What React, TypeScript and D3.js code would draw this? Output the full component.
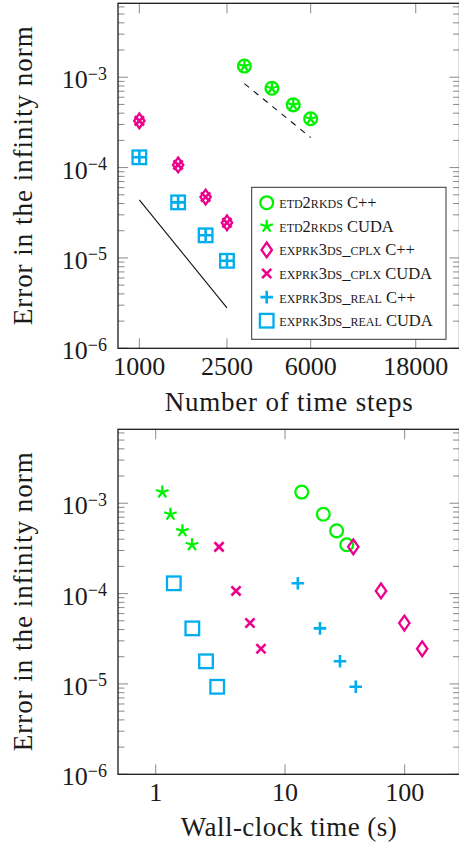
import React from 'react';
import * as d3 from 'd3';

const W = 459;
const H = 853;
const FONT = '"Liberation Serif", "DejaVu Serif", serif';

// number of time steps
const etdSteps = [3000, 4000, 5000, 6000];
const exprkSteps = [1000, 1500, 2000, 2500];

// error in the infinity norm (same for C++ and CUDA runs)
const etdErr = [1.33e-3, 7.55e-4, 4.95e-4, 3.47e-4];
const cplxErr = [3.29e-4, 1.07e-4, 4.72e-5, 2.45e-5];
const realErr = [1.3e-4, 4.12e-5, 1.78e-5, 9.3e-6];

// wall-clock time (s)
const etdCppTime = [13.8, 20.9, 27.0, 32.8];
const etdCudaTime = [1.125, 1.3, 1.61, 1.91];
const cplxCppTime = [37.2, 63.4, 99.3, 140];
const cplxCudaTime = [3.09, 4.18, 5.36, 6.52];
const realCppTime = [12.8, 19.6, 28.8, 39.0];
const realCudaTime = [1.38, 1.92, 2.45, 2.99];

// reference slopes (order 3 solid, order 2 dashed)
const order3Steps = [1000, 2500];
const order3Err = [4.4e-5, 2.8e-6];
const order2Steps = [3000, 6000];
const order2Err = [8.5e-4, 2.15e-4];

const stepTicks = [1000, 2500, 6000, 18000];
const timeTicks = [1, 10, 100];
const errTicks = [1e-6, 1e-5, 1e-4, 1e-3];
const errExp = ['6', '5', '4', '3'];

const GREEN = '#00f200';
const PINK = '#ec008c';
const CYAN = '#00aeef';

type Mark = 'circle' | 'star' | 'diamond' | 'cross' | 'plus' | 'square';

const series: {
  method: string;
  hw: string;
  mark: Mark;
  color: string;
  steps: number[];
  err: number[];
  time: number[];
}[] = [
  { method: 'etd2rkds', hw: 'C++', mark: 'circle', color: GREEN, steps: etdSteps, err: etdErr, time: etdCppTime },
  { method: 'etd2rkds', hw: 'CUDA', mark: 'star', color: GREEN, steps: etdSteps, err: etdErr, time: etdCudaTime },
  { method: 'exprk3ds_cplx', hw: 'C++', mark: 'diamond', color: PINK, steps: exprkSteps, err: cplxErr, time: cplxCppTime },
  { method: 'exprk3ds_cplx', hw: 'CUDA', mark: 'cross', color: PINK, steps: exprkSteps, err: cplxErr, time: cplxCudaTime },
  { method: 'exprk3ds_real', hw: 'C++', mark: 'plus', color: CYAN, steps: exprkSteps, err: realErr, time: realCppTime },
  { method: 'exprk3ds_real', hw: 'CUDA', mark: 'square', color: CYAN, steps: exprkSteps, err: realErr, time: realCudaTime },
];

function Marker({ mark, x, y, color }: { mark: Mark; x: number; y: number; color: string }) {
  const sw = 2.3;
  const common = { fill: 'none', stroke: color, strokeWidth: sw };
  switch (mark) {
    case 'circle':
      return <circle cx={x} cy={y} r={6.4} {...common} />;
    case 'square':
      return <rect x={x - 6.8} y={y - 6.8} width={13.6} height={13.6} {...common} />;
    case 'diamond':
      return <path d={`M${x},${y - 7.4}L${x + 5.2},${y}L${x},${y + 7.4}L${x - 5.2},${y}Z`} {...common} />;
    case 'cross':
      return <path d={`M${x - 4.6},${y - 4.6}L${x + 4.6},${y + 4.6}M${x + 4.6},${y - 4.6}L${x - 4.6},${y + 4.6}`} {...common} strokeWidth={2.6} />;
    case 'plus':
      return <path d={`M${x - 6.3},${y}L${x + 6.3},${y}M${x},${y - 6.3}L${x},${y + 6.3}`} {...common} strokeWidth={2.6} />;
    case 'star': {
      let d = '';
      for (let k = 0; k < 5; k++) {
        const a = ((-90 + k * 72) * Math.PI) / 180;
        d += `M${x},${y}L${x + 6.6 * Math.cos(a)},${y + 6.6 * Math.sin(a)}`;
      }
      return <path d={d} {...common} />;
    }
  }
}

type Panel = { left: number; right: number; top: number; bottom: number };

function Frame({
  p,
  x,
  y,
  xTicks,
  xLabel,
  xLabelLen,
  xLabelY,
  xTickY,
}: {
  p: Panel;
  x: (v: number) => number;
  y: d3.ScaleLogarithmic<number, number>;
  xTicks: number[];
  xLabel: string;
  xLabelLen: number;
  xLabelY: number;
  xTickY: number;
}) {
  const [lo, hi] = y.domain();
  const minors: number[] = [];
  for (let e = -6; e <= -3; e++) {
    for (let k = 2; k <= 9; k++) {
      const v = k * Math.pow(10, e);
      if (v > lo && v < hi) minors.push(v);
    }
  }
  const tickCol = '#8a8a8a';
  const cy = (p.top + p.bottom) / 2;
  const cx = (p.left + p.right) / 2;
  return (
    <g>
      {minors.map((v, i) => (
        <g key={'m' + i} stroke={tickCol} strokeWidth={1}>
          <line x1={p.left} x2={p.left + 6.5} y1={y(v)} y2={y(v)} />
          <line x1={p.right} x2={p.right - 6.5} y1={y(v)} y2={y(v)} />
        </g>
      ))}
      {errTicks.map((v, i) => (
        <g key={'y' + i}>
          <line x1={p.left} x2={p.left + 10} y1={y(v)} y2={y(v)} stroke={tickCol} strokeWidth={1} />
          <line x1={p.right} x2={p.right - 10} y1={y(v)} y2={y(v)} stroke={tickCol} strokeWidth={1} />
          <text x={107} y={y(v) + 11} textAnchor="end" fontSize={26} fill="#1a1a1a">
            <tspan>10</tspan>
            <tspan dy={-8.5} fontSize={18}>{'\u2212' + errExp[i]}</tspan>
          </text>
        </g>
      ))}
      {xTicks.map((v, i) => (
        <g key={'x' + i}>
          <line x1={x(v)} x2={x(v)} y1={p.bottom} y2={p.bottom - 10} stroke={tickCol} strokeWidth={1} />
          <line x1={x(v)} x2={x(v)} y1={p.top} y2={p.top + 10} stroke={tickCol} strokeWidth={1} />
          <text x={x(v)} y={xTickY} textAnchor="middle" fontSize={26} fill="#1a1a1a">
            {String(v)}
          </text>
        </g>
      ))}
      <rect
        x={p.left}
        y={p.top}
        width={p.right - p.left}
        height={p.bottom - p.top}
        fill="none"
        stroke="#1a1a1a"
        strokeWidth={1.3}
      />
      <text x={cx} y={xLabelY} textAnchor="middle" fontSize={27} fill="#1a1a1a" textLength={xLabelLen}>
        {xLabel}
      </text>
      <text
        transform={`translate(31.5,${cy}) rotate(-90)`}
        textAnchor="middle"
        fontSize={27}
        fill="#1a1a1a"
        textLength={299}
      >
        Error in the infinity norm
      </text>
    </g>
  );
}

function Legend() {
  const rowY = d3.range(series.length).map((i) => 202.7 + i * 23.6);
  return (
    <g>
      <rect x={251.7} y={187.3} width={194.3} height={152} fill="white" stroke="#333" strokeWidth={1} />
      {series.map((s, i) => (
        <g key={i}>
          <Marker mark={s.mark} x={266.7} y={rowY[i]} color={s.color} />
          <text x={279.3} y={rowY[i] + 5.5} fontSize={16.5} fill="#1a1a1a">
            <tspan style={{ fontVariant: 'small-caps' }}>{s.method}</tspan>
            <tspan>{' ' + s.hw}</tspan>
          </text>
        </g>
      ))}
    </g>
  );
}

export default function App() {
  const p1: Panel = { left: 118, right: 459.5, top: 3.3, bottom: 348.3 };
  const p2: Panel = { left: 118, right: 459.5, top: 429.3, bottom: 774.3 };

  const yTop = d3.scaleLog().domain([1e-6, 6.58e-3]).range([p1.bottom, p1.top]);
  const yBot = d3.scaleLog().domain([1e-6, 6.58e-3]).range([p2.bottom, p2.top]);
  const xSteps = d3.scaleLog().domain([800, 28300]).range([p1.left, 459]);
  const xTime = d3.scaleLog().domain([1, 10, 100]).range([155.7, 285, 404.7]);

  const order3 = d3.line<number>().x((v) => xSteps(v)).y((_, i) => yTop(order3Err[i]));
  const order2 = d3.line<number>().x((v) => xSteps(v)).y((_, i) => yTop(order2Err[i]));

  return (
    <svg
      width={W}
      height={H}
      viewBox={`0 0 ${W} ${H}`}
      style={{ position: 'absolute', left: 0, top: 0, background: 'white', fontFamily: FONT }}
    >
      <rect width={W} height={H} fill="white" />

      {/* top: error vs number of time steps */}
      <Frame
        p={p1}
        x={xSteps}
        y={yTop}
        xTicks={stepTicks}
        xLabel="Number of time steps"
        xLabelLen={248}
        xLabelY={411}
        xTickY={375}
      />
      <path d={order3(order3Steps) || ''} fill="none" stroke="#111" strokeWidth={1.1} />
      <path d={order2(order2Steps) || ''} fill="none" stroke="#111" strokeWidth={1.1} strokeDasharray="6 6" />
      {series.map((s, si) =>
        s.steps.map((n, i) => (
          <Marker key={`t${si}-${i}`} mark={s.mark} x={xSteps(n)} y={yTop(s.err[i])} color={s.color} />
        ))
      )}
      <Legend />

      {/* bottom: error vs wall-clock time */}
      <Frame
        p={p2}
        x={xTime}
        y={yBot}
        xTicks={timeTicks}
        xLabel="Wall-clock time (s)"
        xLabelLen={216}
        xLabelY={836}
        xTickY={800.5}
      />
      {series.map((s, si) =>
        s.time.map((t, i) => (
          <Marker key={`b${si}-${i}`} mark={s.mark} x={xTime(t)} y={yBot(s.err[i])} color={s.color} />
        ))
      )}
    </svg>
  );
}
